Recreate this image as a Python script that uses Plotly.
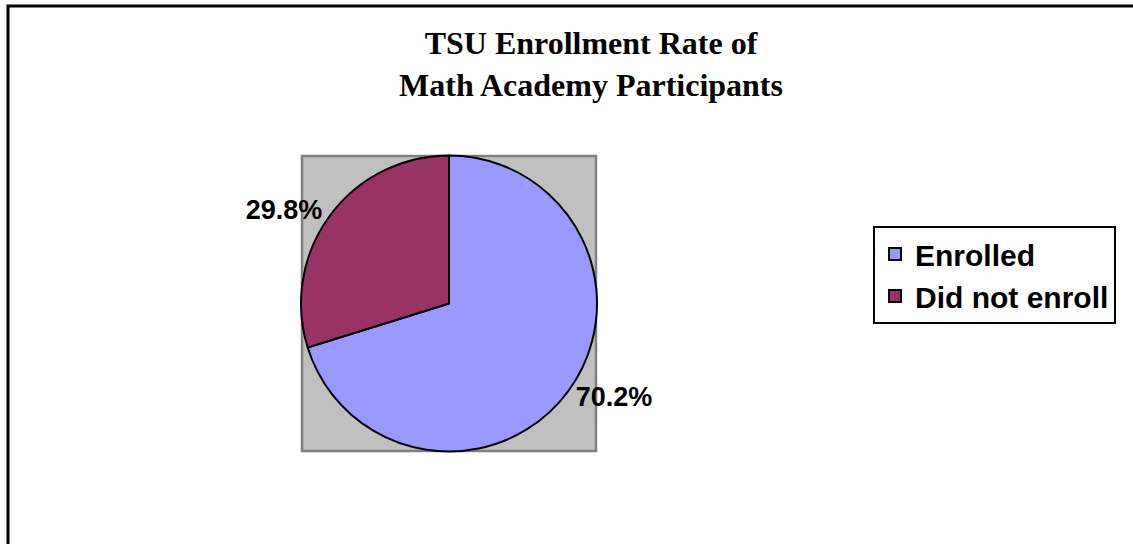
import plotly.graph_objects as go

W, H = 1133, 544

title_lines = ["TSU Enrollment Rate of", "Math Academy Participants"]
categories = ["Enrolled", "Did not enroll"]
values = [70.2, 29.8]
colors = ["#9999FF", "#993366"]


def px_x(x):
    return x / W


def px_y(y):
    return 1 - y / H


fig = go.Figure()
fig.add_trace(go.Pie(
    labels=categories,
    values=values,
    sort=False,
    direction="clockwise",
    rotation=0,
    marker=dict(colors=colors, line=dict(color="black", width=2)),
    texttemplate="%{percent:.1%}",
    textposition="outside",
    outsidetextfont=dict(family="Liberation Sans, Arial", size=27, color="black", weight="bold"),
    domain=dict(x=[px_x(301), px_x(597)], y=[px_y(452), px_y(155)]),
    hoverinfo="label+percent",
    showlegend=True,
))

shapes = [
    # outer chart border (extends beyond the visible page)
    dict(type="rect", xref="paper", yref="paper",
         x0=px_x(8), x1=px_x(W + 40), y0=px_y(H + 40), y1=px_y(6),
         line=dict(color="black", width=3), fillcolor="rgba(0,0,0,0)", layer="below"),
    # grey plot area behind the pie
    dict(type="rect", xref="paper", yref="paper",
         x0=px_x(302), x1=px_x(596), y0=px_y(451), y1=px_y(156),
         line=dict(color="#808080", width=2.5), fillcolor="#C0C0C0", layer="below"),
]

fig.update_layout(
    width=W, height=H,
    margin=dict(l=0, r=0, t=0, b=0),
    paper_bgcolor="white",
    plot_bgcolor="white",
    shapes=shapes,
    title=dict(
        text="<br>".join(title_lines),
        x=px_x(591), xanchor="center",
        y=px_y(54), yanchor="top",
        font=dict(family="Liberation Serif, Times New Roman", size=32, color="black", weight="bold"),
    ),
    legend=dict(
        x=px_x(873), xanchor="left",
        y=px_y(275), yanchor="middle",
        bordercolor="black", borderwidth=2,
        bgcolor="white",
        font=dict(family="Liberation Sans, Arial", size=30, color="black", weight="bold"),
        itemclick=False,
    ),
)

fig.write_html("out.html")
